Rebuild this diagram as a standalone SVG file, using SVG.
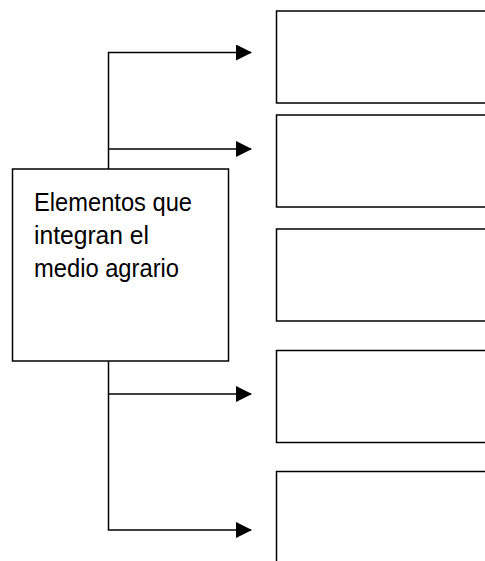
<svg xmlns="http://www.w3.org/2000/svg" width="485" height="561" viewBox="0 0 485 561">
<style>
.box{fill:#fff;stroke:#000;stroke-width:1.5}
.ln{fill:none;stroke:#000;stroke-width:1.5}
.lbl{font-family:"Liberation Sans",Arial,sans-serif;font-size:25px;fill:#000}
</style>
<defs>
<marker id="ah" markerUnits="userSpaceOnUse" markerWidth="16" markerHeight="17" refX="15" refY="8" orient="auto">
<path d="M0,0 L16,8 L0,16 Z" fill="#000"/>
</marker>
</defs>
<g id="connectors">
<path class="ln" d="M108.5,169 V52.5 H251" marker-end="url(#ah)"/>
<path class="ln" d="M108.5,149 H251" marker-end="url(#ah)"/>
<path class="ln" d="M108.5,361 V530 H251" marker-end="url(#ah)"/>
<path class="ln" d="M108.5,394 H251" marker-end="url(#ah)"/>
</g>
<g id="n1"><rect class="box" x="276.5" y="11" width="220" height="92"/></g>
<g id="n2"><rect class="box" x="276.5" y="115" width="220" height="92"/></g>
<g id="n3"><rect class="box" x="276.5" y="229" width="220" height="92"/></g>
<g id="n4"><rect class="box" x="276.5" y="350.5" width="220" height="92"/></g>
<g id="n5"><rect class="box" x="276.5" y="471.5" width="220" height="100"/></g>
<g id="main">
<rect class="box" x="12.5" y="169" width="216" height="192"/>
<text class="lbl" x="34" y="210.5" textLength="158" lengthAdjust="spacingAndGlyphs">Elementos que</text>
<text class="lbl" x="34" y="243.5" textLength="115" lengthAdjust="spacingAndGlyphs">integran el</text>
<text class="lbl" x="34" y="276.5" textLength="145" lengthAdjust="spacingAndGlyphs">medio agrario</text>
</g>
</svg>
